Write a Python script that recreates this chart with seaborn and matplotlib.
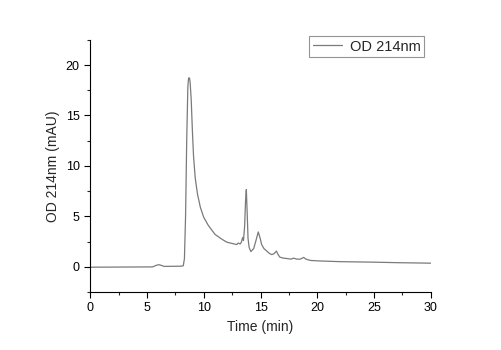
import numpy as np
import pandas as pd
import matplotlib
matplotlib.use("Agg")
import matplotlib.pyplot as plt
import seaborn as sns
from matplotlib.ticker import MultipleLocator

time_min = [0.0, 5.5, 5.85, 6.05, 6.3, 6.5, 8.0, 8.2, 8.3, 8.4, 8.5, 8.6, 8.65, 8.7,
            8.75, 8.8, 8.9, 9.0, 9.1, 9.25, 9.45, 9.7, 10.0, 10.4, 11.0, 11.5, 12.0,
            12.5, 12.9, 13.05, 13.2, 13.3, 13.43, 13.5, 13.6, 13.68, 13.75, 13.82,
            13.9, 14.0, 14.15, 14.4, 14.6, 14.8, 14.95, 15.1, 15.3, 15.55, 15.8,
            16.0, 16.2, 16.4, 16.55, 16.7, 17.0, 17.4, 17.7, 17.9, 18.2, 18.5,
            18.8, 19.0, 19.4, 20.0, 22.0, 25.0, 27.0, 30.0]
od_214 = [-0.05, -0.02, 0.15, 0.2, 0.12, 0.03, 0.05, 0.1, 0.8, 5.0, 12.5, 17.8,
          18.55, 18.75, 18.7, 18.3, 16.5, 13.5, 11.0, 8.8, 7.2, 5.9, 4.9, 4.1, 3.2,
          2.8, 2.45, 2.3, 2.2, 2.35, 2.25, 2.4, 2.9, 2.6, 4.0, 6.5, 7.65, 5.5, 2.8,
          1.9, 1.5, 1.8, 2.6, 3.45, 2.9, 2.2, 1.8, 1.55, 1.3, 1.2, 1.3, 1.55, 1.2,
          0.95, 0.85, 0.8, 0.75, 0.85, 0.75, 0.75, 0.92, 0.75, 0.62, 0.58, 0.5,
          0.45, 0.4, 0.35]

df = pd.DataFrame({"Time (min)": time_min, "OD 214nm": od_214})

sns.set_style("ticks")
plt.rcParams["font.family"] = ["Liberation Sans", "DejaVu Sans"]

fig = plt.figure(figsize=(5.01, 3.5), dpi=100)
ax = fig.add_axes([0.18, 0.166, 0.68, 0.72])

sns.lineplot(data=df, x="Time (min)", y="OD 214nm", ax=ax, color="#7a7a7a",
             linewidth=0.9, label="OD 214nm")

ax.set_xlim(0, 30)
ax.set_ylim(-2.5, 22.5)
ax.xaxis.set_major_locator(MultipleLocator(5))
ax.xaxis.set_minor_locator(MultipleLocator(2.5))
ax.yaxis.set_major_locator(MultipleLocator(5))
ax.yaxis.set_minor_locator(MultipleLocator(2.5))
ax.tick_params(which="major", direction="out", length=4, width=0.8, labelsize=9, colors="black")
ax.tick_params(which="minor", direction="out", length=2.5, width=0.8)
ax.set_xlabel("Time (min)", fontsize=10)
ax.set_ylabel("OD 214nm (mAU)", fontsize=10)
for side in ("top", "right"):
    ax.spines[side].set_visible(False)
for side in ("left", "bottom"):
    ax.spines[side].set_linewidth(0.8)
    ax.spines[side].set_color("black")

leg = ax.legend(loc="upper right", fontsize=10.5, frameon=True, fancybox=False,
                edgecolor="#7a7a7a", handlelength=2.0, handletextpad=0.5,
                borderpad=0.25, borderaxespad=0, bbox_to_anchor=(0.98, 1.016))
leg.get_frame().set_linewidth(0.8)

fig.savefig("out.png", dpi=100)
